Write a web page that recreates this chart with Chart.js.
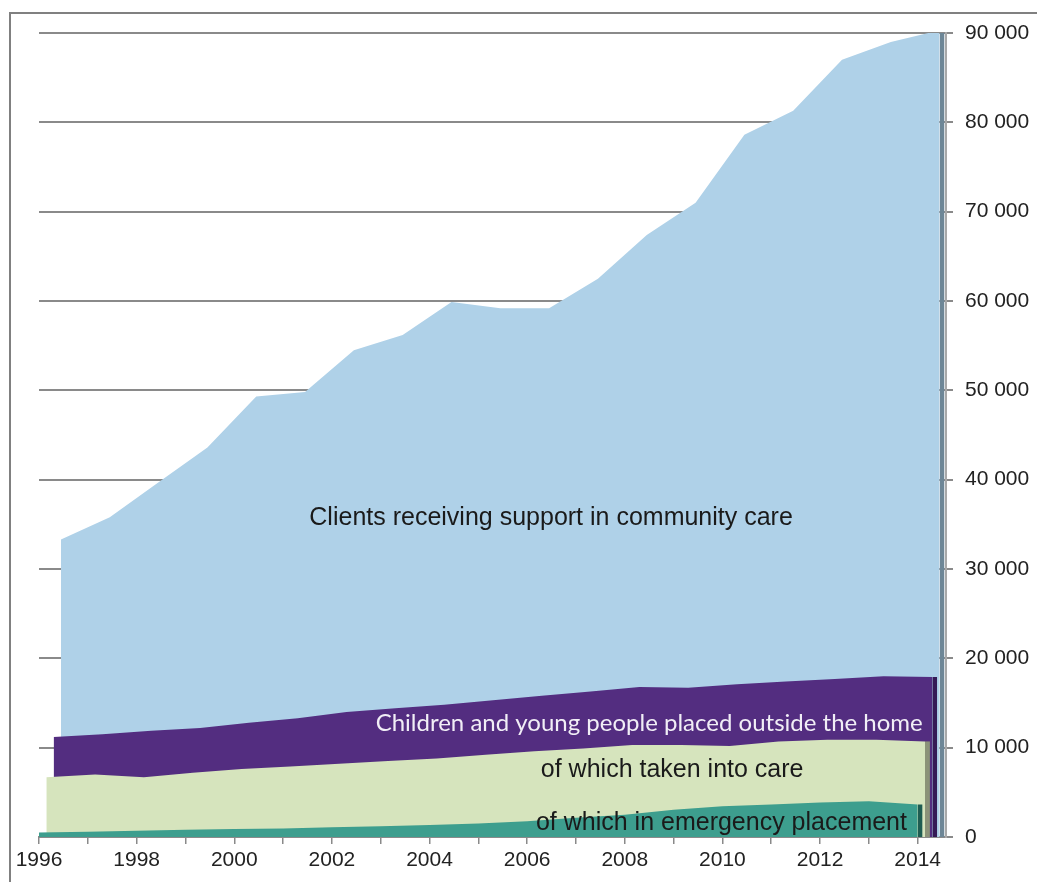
<!DOCTYPE html>
<html>
<head>
<meta charset="utf-8">
<script src="https://cdn.jsdelivr.net/npm/chart.js@4/dist/chart.umd.min.js"></script>
<style>
  html, body { margin: 0; padding: 0; background: #fff; }
  #wrap { position: relative; width: 1037px; height: 882px; }
</style>
</head>
<body>
<div id="wrap"><canvas id="chart" width="1037" height="882"></canvas></div>
<script>
// yearly values
const years = [1996, 1997, 1998, 1999, 2000, 2001, 2002, 2003, 2004, 2005, 2006, 2007, 2008, 2009, 2010, 2011, 2012, 2013, 2014];
const community = [33300, 35800, 39700, 43600, 49300, 49800, 54500, 56200, 59900, 59200, 59200, 62500, 67400, 71000, 78600, 81300, 87000, 89000, 90300];
const placedOutside = [11200, 11500, 11900, 12200, 12800, 13300, 14000, 14400, 14800, 15300, 15800, 16300, 16800, 16700, 17100, 17400, 17700, 18000, 17900];
const takenIntoCare = [6700, 7000, 6700, 7200, 7600, 7900, 8200, 8500, 8800, 9200, 9600, 9900, 10300, 10300, 10200, 10700, 10900, 10900, 10700];
const emergency = [500, 600, 700, 800, 900, 950, 1100, 1200, 1350, 1500, 1750, 2150, 2500, 3050, 3450, 3650, 3850, 4000, 3650];
const yTicks = [0, 10000, 20000, 30000, 40000, 50000, 60000, 70000, 80000, 90000];

const FONT = '"Liberation Sans", Arial, sans-serif';
const EDGE = 0.1; // width of the dark end face, in years

// each layer sits a little further right (pseudo 3D depth)
function pts(vals, off) { return vals.map((v, i) => ({ x: years[i] + off, y: v })); }
function edge(vals, off) {
  const last = vals[vals.length - 1], x = years[years.length - 1] + off;
  return [{ x: x, y: last }, { x: x + EDGE, y: last }];
}
function area(label, data, color, order) {
  return { label, data, backgroundColor: color, borderWidth: 0, pointRadius: 0, fill: 'origin', tension: 0, order };
}

const layers = [
  { name: 'Clients receiving support in community care', vals: community, off: 0.45, fill: '#afd1e8', side: '#6d8696', order: 8 },
  { name: 'Children and young people placed outside the home', vals: placedOutside, off: 0.30, fill: '#532d80', side: '#351a55', order: 6 },
  { name: 'of which taken into care', vals: takenIntoCare, off: 0.15, fill: '#d6e4bd', side: '#8b9279', order: 4 },
  { name: 'of which in emergency placement', vals: emergency, off: 0.0, fill: '#3d9e8e', side: '#1f5d52', order: 2 }
];
const datasets = [];
layers.forEach(l => {
  datasets.push(area(l.name, pts(l.vals, l.off), l.fill, l.order));
  datasets.push(area(l.name + ' (edge)', edge(l.vals, l.off), l.side, l.order - 1));
});

const fmtNum = v => String(v).replace(/\B(?=(\d{3})+(?!\d))/g, ' ');

const extras = {
  id: 'extras',
  beforeDraw(chart) {
    const ctx = chart.ctx;
    ctx.save();
    ctx.strokeStyle = '#808080';
    ctx.lineWidth = 2;
    ctx.beginPath();
    ctx.moveTo(10, 882); ctx.lineTo(10, 13); ctx.lineTo(1037, 13);
    ctx.stroke();
    ctx.restore();
  },
  afterDatasetsDraw(chart) {
    const ctx = chart.ctx, x = chart.scales.x, y = chart.scales.y;
    const put = (txt, xv, yv, font, color) => {
      ctx.font = font; ctx.fillStyle = color;
      ctx.textAlign = 'center'; ctx.textBaseline = 'middle';
      ctx.fillText(txt, x.getPixelForValue(xv), y.getPixelForValue(yv));
    };
    ctx.save();
    put(layers[0].name, 2006.49, 35650, '25px ' + FONT, '#1a1a1a');
    put(layers[1].name, 2008.5, 12700, '24px Lato, "Open Sans", sans-serif', '#f1eef6');
    put(layers[2].name, 2008.97, 7450, '25px ' + FONT, '#1a1a1a');
    put(layers[3].name, 2009.98, 1550, '25px ' + FONT, '#1a1a1a');
    ctx.restore();
  }
};

new Chart(document.getElementById('chart'), {
  type: 'line',
  data: { datasets },
  options: {
    responsive: false,
    animation: false,
    layout: { padding: { left: 39, top: 33, right: 0, bottom: 0 } },
    plugins: { legend: { display: false }, tooltip: { enabled: false } },
    scales: {
      x: {
        type: 'linear',
        min: 1996,
        max: 2014.58,
        afterBuildTicks: s => { s.ticks = years.map(v => ({ value: v })); },
        afterFit: s => { s.height = 45; },
        ticks: {
          autoSkip: false, maxRotation: 0, padding: 4,
          color: '#222', font: { family: FONT, size: 21 },
          callback: v => (v % 2 === 0 ? String(v) : '')
        },
        grid: { drawOnChartArea: false, drawTicks: true, tickLength: 7, color: '#8a8a8a', lineWidth: 1.5 },
        border: { display: true, color: '#8a8a8a', width: 2 }
      },
      y: {
        position: 'right',
        min: 0,
        max: 90000,
        afterBuildTicks: s => { s.ticks = yTicks.map(v => ({ value: v })); },
        afterFit: s => { s.width = 91; },
        ticks: {
          padding: 12, color: '#222', font: { family: FONT, size: 21 },
          callback: v => fmtNum(v)
        },
        grid: { color: '#8a8a8a', lineWidth: 2, tickLength: 7 },
        border: { display: true, color: '#a8a8a8', width: 2 }
      }
    }
  },
  plugins: [extras]
});
</script>
</body>
</html>
